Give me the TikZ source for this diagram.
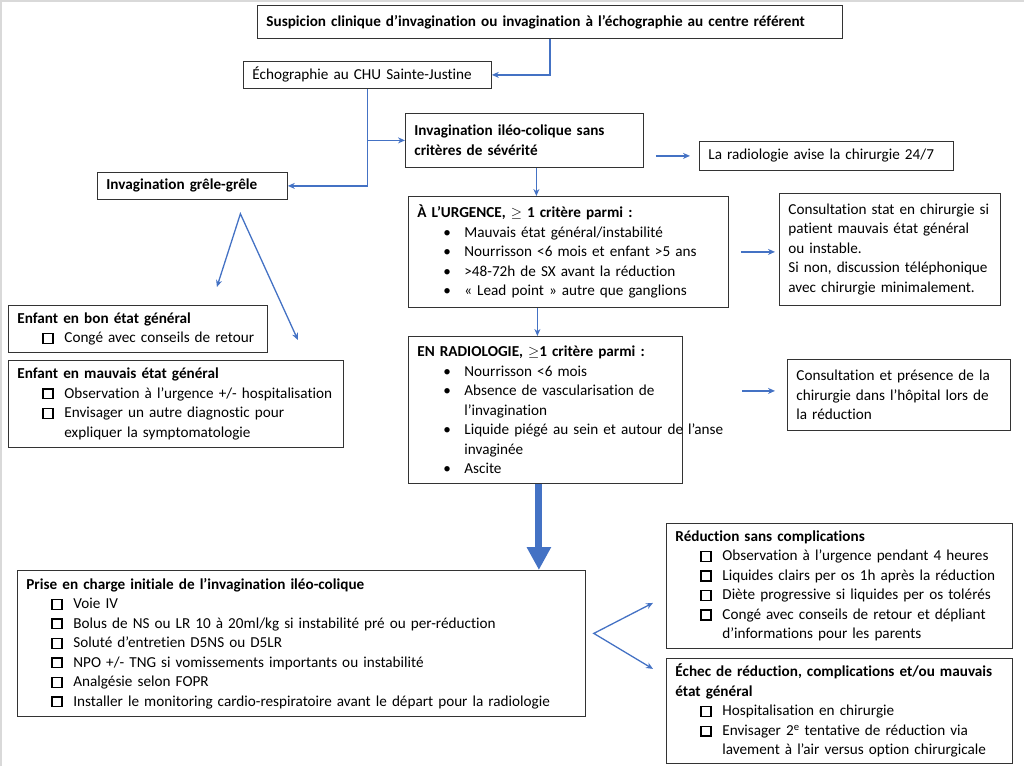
\documentclass[tikz,border=0pt]{standalone}
\usepackage{fontspec}
\setmainfont{Carlito}[Ligatures=NoCommon]
\usepackage{tikz}
\usetikzlibrary{arrows.meta}
\definecolor{bleu}{RGB}{68,114,196}
\newcommand{\boitecoche}{{\setlength{\fboxrule}{1.3pt}\setlength{\fboxsep}{0pt}\framebox{\rule{0pt}{8.5pt}\hspace{8.5pt}}}}
\newcommand{\carre}[1]{\mbox{\hspace*{25pt}\makebox[22pt][l]{\boitecoche}#1}}
\newcommand{\puce}[1]{\mbox{\hspace*{26pt}\makebox[21pt][l]{\textbullet}#1}}
\newcommand{\suite}[1]{\mbox{\hspace*{47pt}#1}}

\begin{document}
\begin{tikzpicture}[x=1pt, y=-1pt,
	boite/.style={draw=black!80, line width=0.8pt, anchor=north west, inner xsep=9pt, inner ysep=0pt, align=left, font=\fontsize{15.2}{19.5}\selectfont},
	fleche/.style={draw=bleu, line width=1.3pt, -{Stealth[length=7pt, width=6pt]}},
	deuxpointes/.style={fleche, {Stealth[length=7pt, width=6pt]}-{Stealth[length=7pt, width=6pt]}},
	grosse/.style={draw=bleu, line width=7pt, -{Triangle[length=23pt, width=23pt]}}]
	\useasboundingbox (0,0) rectangle (1024,766);
	\draw[black!15, line width=2pt] (1,766) -- (1,1) -- (1024,1);

	\node (1) at (257,5) [boite, text width=567pt, minimum height=33pt] {\textbf{Suspicion clinique d’invagination ou invagination à l’échographie au centre référent}};
	\node (2) at (243,61) [boite, text width=230pt, minimum height=27pt] {Échographie au CHU Sainte-Justine};
	\node (3) at (405,113) [boite, text width=220pt, minimum height=54pt] {\mbox{\textbf{Invagination iléo-colique sans}}\\\textbf{critères de sévérité}};
	\node (4) at (97,172) [boite, text width=172pt, minimum height=27pt] {\textbf{Invagination grêle-grêle}};
	\node (5) at (699,141) [boite, text width=236pt, minimum height=29pt] {La radiologie avise la chirurgie 24/7};
	\node (6) at (408,196) [boite, text width=302pt, minimum height=111pt] {\textbf{À L’URGENCE, $\geq$ 1 critère parmi :}\\
		\puce{Mauvais état général/instabilité}\\
		\puce{Nourrisson <6 mois et enfant >5 ans}\\
		\puce{>48-72h de SX avant la réduction}\\
		\puce{« Lead point » autre que ganglions}};
	\node (7) at (779,193) [boite, text width=203pt, minimum height=112pt] {Consultation stat en chirurgie si\\patient mauvais état général\\ou instable.\\Si non, discussion téléphonique\\avec chirurgie minimalement.};
	\node (8) at (408,336) [boite, text width=256pt, minimum height=147pt] {\textbf{EN RADIOLOGIE, $\geq$1 critère parmi :}\\
		\puce{Nourrisson <6 mois}\\
		\puce{Absence de vascularisation de}\\
		\suite{l’invagination}\\
		\puce{Liquide piégé au sein et autour de l’anse}\\
		\suite{invaginée}\\
		\puce{Ascite}};
	\node (9) at (787,359) [boite, text width=205pt, minimum height=71pt] {Consultation et présence de la\\chirurgie dans l’hôpital lors de\\la réduction};
	\node (10) at (8,305) [boite, text width=241pt, minimum height=47pt] {\textbf{Enfant en bon état général}\\
		\carre{Congé avec conseils de retour}};
	\node (11) at (8,360) [boite, text width=317pt, minimum height=87pt] {\textbf{Enfant en mauvais état général}\\
		\carre{Observation à l’urgence +/- hospitalisation}\\
		\carre{Envisager un autre diagnostic pour}\\
		\suite{expliquer la symptomatologie}};
	\node (12) at (17,570) [boite, text width=550pt, minimum height=146pt] {\textbf{Prise en charge initiale de l’invagination iléo-colique}\\
		\carre{Voie IV}\\
		\carre{Bolus de NS ou LR 10 à 20ml/kg si instabilité pré ou per-réduction}\\
		\carre{Soluté d’entretien D5NS ou D5LR}\\
		\carre{NPO +/- TNG si vomissements importants ou instabilité}\\
		\carre{Analgésie selon FOPR}\\
		\carre{Installer le monitoring cardio-respiratoire avant le départ pour la radiologie}};
	\node (13) at (666,523) [boite, text width=328pt, minimum height=125pt] {\textbf{Réduction sans complications}\\
		\carre{Observation à l’urgence pendant 4 heures}\\
		\carre{Liquides clairs per os 1h après la réduction}\\
		\carre{Diète progressive si liquides per os tolérés}\\
		\carre{Congé avec conseils de retour et dépliant}\\
		\suite{d’informations pour les parents}};
	\node (14) at (666,658) [boite, text width=328pt, minimum height=105pt] {\textbf{Échec de réduction, complications et/ou mauvais}\\
		\textbf{état général}\\
		\carre{Hospitalisation en chirurgie}\\
		\carre{Envisager 2\textsuperscript{e} tentative de réduction via}\\
		\suite{lavement à l’air versus option chirurgicale}};

	\draw[fleche] (1.south) |- (2.east);
	\draw[fleche] (2.south) |- (4.east);
	\draw[fleche] (2.south |- 3.west) -- (3.west);
	\draw[fleche] ([xshift=12pt]3.east |- 5.west) -- ([xshift=-9pt]5.west);
	\draw[fleche] ([xshift=12pt]3.south) -- ([xshift=12pt]3.south |- 6.north);
	\draw[fleche] ([xshift=12pt]6.east) -- ([xshift=-4pt]6.east -| 7.west);
	\draw[fleche] ([xshift=-31pt]6.south) -- ([xshift=-31pt]6.south |- 8.north);
	\draw[fleche] ([xshift=-45pt,yshift=4pt]9.west) -- ([xshift=-12pt,yshift=4pt]9.west);
	\draw[deuxpointes] ([xshift=79pt,yshift=18pt]10.north) -- ([xshift=48pt,yshift=-14pt]4.south) -- ([xshift=122pt,yshift=20pt]11.north);
	\draw[grosse] ([xshift=-6.5pt]8.south) -- ([xshift=-6.5pt]8.south |- 12.north);
	\draw[deuxpointes] ([xshift=-13pt,yshift=-17pt]13.west) -- ([xshift=8pt,yshift=10pt]12.east) -- ([xshift=-13pt,yshift=42pt]14.west);
\end{tikzpicture}
\end{document}
